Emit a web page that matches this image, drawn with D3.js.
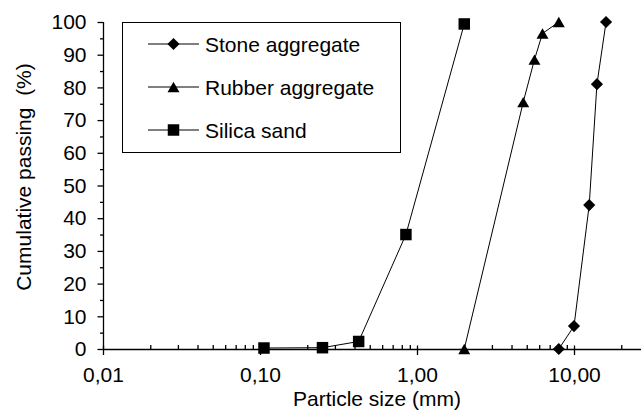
<!DOCTYPE html>
<html>
<head>
<meta charset="utf-8">
<script src="https://cdn.jsdelivr.net/npm/d3@7"></script>
<style>
  html, body { margin: 0; padding: 0; background: #fff; }
  svg { display: block; }
  text { font-family: "Liberation Sans", Arial, sans-serif; fill: #000; }
</style>
</head>
<body>
<svg id="chart" width="641" height="415"></svg>
<script>
// ---- data ----
const stoneSize    = [8.0, 10.0, 12.5, 14.0, 16.0];
const stonePassing = [0, 7, 44, 81, 100];
const rubberSize    = [2.0, 4.75, 5.6, 6.3, 8.0];
const rubberPassing = [0, 75.5, 88.5, 96.5, 100];
const silicaSize    = [0.106, 0.25, 0.425, 0.85, 2.0];
const silicaPassing = [0.3, 0.4, 2.3, 35, 99.4];

const seriesNames = ["Stone aggregate", "Rubber aggregate", "Silica sand"];
const xMajorTicks = [0.01, 0.1, 1, 10];
const xTickLabels = ["0,01", "0,10", "1,00", "10,00"];
const yMajorTicks = [0, 10, 20, 30, 40, 50, 60, 70, 80, 90, 100];
const yMinorTicks = [5, 15, 25, 35, 45, 55, 65, 75, 85, 95];
const xTitle = "Particle size (mm)";
const yTitle = "Cumulative passing\u00a0\u00a0(%)";

// ---- layout ----
const svg = d3.select("#chart");
const x = d3.scaleLog().domain([0.01, 100]).range([103, 731]);
const y = d3.scaleLinear().domain([0, 100]).range([349, 22]);
const FS = 21;

// minor x ticks (2..9 of each decade)
const xMinorTicks = [];
[0.01, 0.1, 1, 10].forEach(d => { for (let k = 2; k <= 9; k++) xMinorTicks.push(+(d * k).toPrecision(3)); });

// x axis: major ticks down with labels
const xAxis = svg.append("g").attr("transform", `translate(0,${y(0)})`)
  .call(d3.axisBottom(x).tickValues(xMajorTicks).tickSize(6).tickPadding(12)
    .tickFormat((d, i) => xTickLabels[i]));
xAxis.select(".domain").attr("d", `M${x(0.01)},0.5H641`);
// upward minor ticks
svg.append("g").attr("transform", `translate(0,${y(0)})`)
  .call(d3.axisBottom(x).tickValues(xMinorTicks).tickSize(-4).tickFormat(""))
  .select(".domain").remove();
svg.append("g").attr("transform", `translate(0,${y(0)})`)
  .call(d3.axisBottom(x).tickValues(xMajorTicks).tickSize(-3.5).tickFormat(""))
  .select(".domain").remove();

// y axis
const yAxis = svg.append("g").attr("transform", `translate(${x(0.01)},0)`)
  .call(d3.axisLeft(y).tickValues(yMajorTicks).tickSize(5.5).tickPadding(11).tickFormat(d3.format("d")));
yAxis.select(".domain").attr("d", `M0.5,${y(100)}V${y(0)}`);
svg.append("g").attr("transform", `translate(${x(0.01)},0)`)
  .call(d3.axisLeft(y).tickValues(yMinorTicks).tickSize(3).tickFormat(""))
  .select(".domain").remove();

svg.selectAll(".tick text").style("font-size", FS + "px").style("font-family", "'Liberation Sans', Arial, sans-serif");
svg.selectAll(".domain, .tick line").attr("stroke", "#000").attr("stroke-width", 1.3);

// axis titles
svg.append("text").attr("x", 377).attr("y", 406).attr("text-anchor", "middle")
  .style("font-size", FS + "px").text(xTitle);
svg.append("text").attr("transform", "translate(31,177) rotate(-90)").attr("text-anchor", "middle")
  .style("font-size", FS + "px").text(yTitle);

// markers
const markerSquare = d3.symbol().type(d3.symbolSquare).size(132)();
const markerDiamond = d3.symbol().type(d3.symbolSquare).size(74)();
const markerTriangle = d3.symbol().type(d3.symbolTriangle).size(62)();
const triShift = Math.sqrt(62 / (Math.sqrt(3) * 3)) / 2;
const markers = [
  { path: markerDiamond, tf: "rotate(45)" },
  { path: markerTriangle, tf: `translate(0,${triShift})` },
  { path: markerSquare, tf: "" }
];

const series = [
  { name: seriesNames[0], xs: stoneSize, ys: stonePassing, m: markers[0] },
  { name: seriesNames[1], xs: rubberSize, ys: rubberPassing, m: markers[1] },
  { name: seriesNames[2], xs: silicaSize, ys: silicaPassing, m: markers[2] }
];

const line = d3.line().x(d => x(d[0])).y(d => y(d[1]));
series.forEach(s => {
  const pts = s.xs.map((v, i) => [v, s.ys[i]]);
  svg.append("path").attr("d", line(pts)).attr("fill", "none").attr("stroke", "#000").attr("stroke-width", 1);
  svg.append("g").selectAll("path").data(pts).join("path")
    .attr("d", s.m.path)
    .attr("transform", d => `translate(${x(d[0])},${y(d[1])}) ${s.m.tf}`)
    .attr("fill", "#000");
});

// legend
const lg = svg.append("g");
lg.append("rect").attr("x", 122.5).attr("y", 22.5).attr("width", 278).attr("height", 130)
  .attr("fill", "#fff").attr("stroke", "#000").attr("stroke-width", 1);
const rowY = [44, 87, 130];
series.forEach((s, i) => {
  lg.append("line").attr("x1", 148).attr("x2", 199).attr("y1", rowY[i]).attr("y2", rowY[i])
    .attr("stroke", "#000").attr("stroke-width", 1);
  lg.append("path").attr("d", s.m.path).attr("fill", "#000")
    .attr("transform", `translate(173.5,${rowY[i]}) ${s.m.tf}`);
  lg.append("text").attr("x", 205).attr("y", rowY[i]).attr("dy", "0.36em")
    .style("font-size", FS + "px").text(s.name);
});
</script>
</body>
</html>
